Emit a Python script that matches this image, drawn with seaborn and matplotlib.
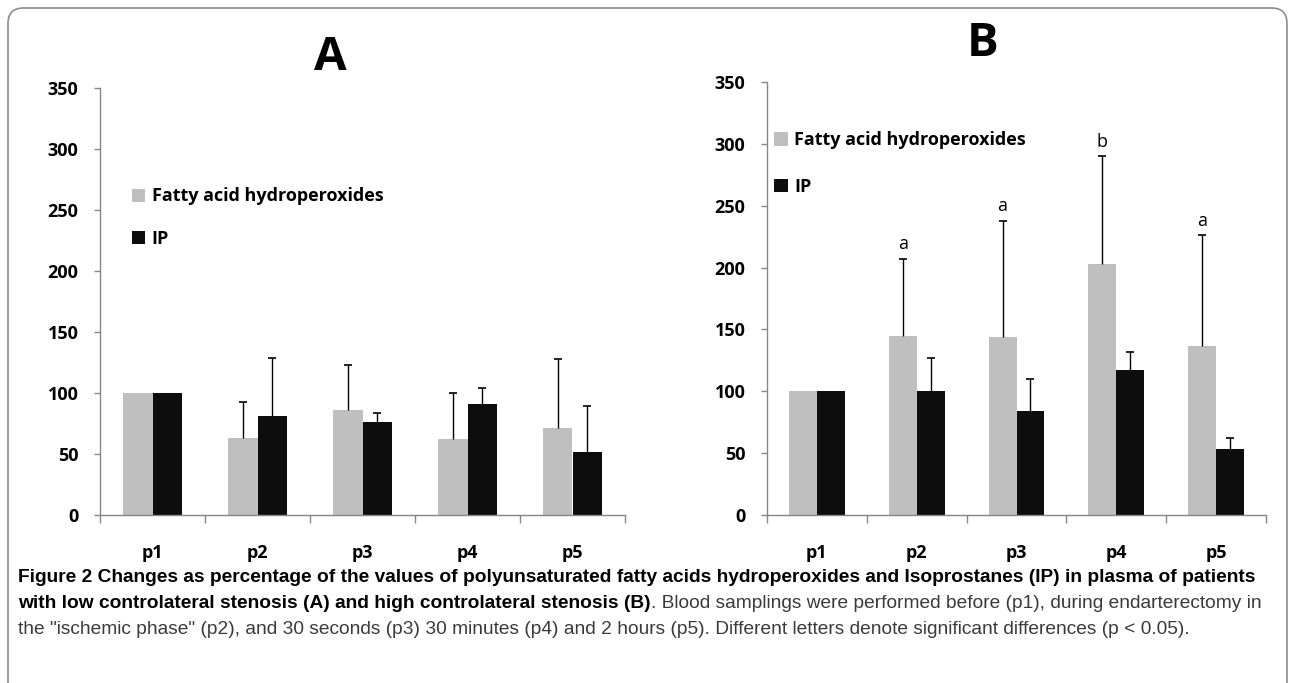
import matplotlib
matplotlib.use("Agg")
import matplotlib.pyplot as plt
import seaborn as sns
import pandas as pd
from matplotlib.patches import FancyBboxPatch

# data
categories = ["p1", "p2", "p3", "p4", "p5"]
series = ["Fatty acid hydroperoxides", "IP"]

a_fa = [100, 63, 86, 62, 71]
a_fa_sd = [0, 30, 37, 38, 57]
a_ip = [100, 81, 76, 91, 52]
a_ip_sd = [0, 48, 8, 13, 37]

b_fa = [100, 145, 144, 203, 137]
b_fa_sd = [0, 62, 94, 87, 89]
b_ip = [100, 100, 84, 117, 53]
b_ip_sd = [0, 27, 26, 15, 9]
b_letters = ["", "a", "a", "b", "a"]

colors = ["#bfbfbf", "#0d0d0d"]
axis_grey = "#868686"
tick_font = ["Open Sans", "DejaVu Sans"]
cap_font = ["Liberation Sans Narrow", "Liberation Sans", "DejaVu Sans"]

sns.set_theme(style="white")
plt.rcParams["font.family"] = tick_font
plt.rcParams["text.color"] = "black"

fig = plt.figure(figsize=(12.92, 6.83), dpi=100)

# rounded frame around the figure
frame = FancyBboxPatch((8 / 1292, -0.2), 1279 / 1292, 1.2 - 8 / 683,
                       boxstyle="round,pad=0,rounding_size=0.012",
                       transform=fig.transFigure, fill=False,
                       edgecolor="#8c8c8c", linewidth=1.2, mutation_aspect=1292 / 683)
fig.patches.append(frame)


def panel(rect, fa, fa_sd, ip, ip_sd, title, title_x, title_y, leg_anchor, leg_space, letters=None):
    ax = fig.add_axes(rect)
    df = pd.DataFrame({
        "t": categories * 2,
        "s": [series[0]] * 5 + [series[1]] * 5,
        "v": fa + ip,
    })
    sns.barplot(data=df, x="t", y="v", hue="s", order=categories, hue_order=series,
                palette=colors, width=0.56, gap=0, errorbar=None, saturation=1,
                linewidth=0, ax=ax)

    # one-sided (upper) error bars at the centre of each bar
    bars = ax.patches[:10]
    sds = fa_sd + ip_sd
    vals = fa + ip
    for p, v, sd in zip(bars, vals, sds):
        if sd > 0:
            xc = p.get_x() + p.get_width() / 2
            _, caps, _ = ax.errorbar(xc, v, yerr=[[0], [sd]], fmt="none", ecolor="black",
                                     elinewidth=1, capsize=3, capthick=1.2)
            caps[0].set_visible(False)

    if letters:
        for i, lt in enumerate(letters):
            if lt:
                p = bars[i]
                xc = p.get_x() + p.get_width() / 2
                ax.annotate(lt, (xc, fa[i] + fa_sd[i]), xytext=(0, 4),
                            textcoords="offset points", ha="center", va="bottom",
                            fontsize=13, family=tick_font, color="black")

    ax.set_ylim(0, 350)
    ax.set_xlim(-0.5, 4.5)
    ax.set_yticks(range(0, 351, 50))
    ax.set_xlabel("")
    ax.set_ylabel("")
    for s in ["top", "right"]:
        ax.spines[s].set_visible(False)
    for s in ["left", "bottom"]:
        ax.spines[s].set_color(axis_grey)
        ax.spines[s].set_linewidth(1)
    ax.set_xticks([-0.5, 0.5, 1.5, 2.5, 3.5, 4.5], minor=True)
    ax.tick_params(axis="x", which="minor", bottom=True, length=5.5, color=axis_grey, width=1)
    ax.tick_params(axis="x", which="major", bottom=False, length=0, pad=21)
    ax.tick_params(axis="y", left=True, length=4.5, color=axis_grey, width=1, pad=11)
    for lab in ax.get_xticklabels() + ax.get_yticklabels():
        lab.set_fontweight("bold")
        lab.set_fontsize(13)
        lab.set_color("black")

    leg = ax.legend(loc="upper left", bbox_to_anchor=leg_anchor, frameon=False,
                    handlelength=0.75, handleheight=0.75, handletextpad=0.35,
                    labelspacing=leg_space, borderaxespad=0,
                    prop={"weight": "bold", "size": 13, "family": tick_font})
    for t in leg.get_texts():
        t.set_color("black")

    fig.text(title_x / 1292, 1 - title_y / 683, title, ha="center", va="center",
             fontsize=34, fontweight="bold", family=tick_font, color="black")
    return ax


panel([100 / 1292, 1 - 515 / 683, 525 / 1292, 427 / 683],
      a_fa, a_fa_sd, a_ip, a_ip_sd, "A", 330, 57, (0.047, 0.784), 1.35)
panel([767 / 1292, 1 - 515 / 683, 499 / 1292, 433 / 683],
      b_fa, b_fa_sd, b_ip, b_ip_sd, "B", 983, 44, (0.0, 0.903), 1.6, letters=b_letters)

# caption
cap1 = ("Figure 2 Changes as percentage of the values of polyunsaturated fatty acids "
        "hydroperoxides and Isoprostanes (IP) in plasma of patients")
cap2b = "with low controlateral stenosis (A) and high controlateral stenosis (B)"
cap2n = ". Blood samplings were performed before (p1), during endarterectomy in"
cap3 = ("the \"ischemic phase\" (p2), and 30 seconds (p3) 30 minutes (p4) and 2 hours (p5). "
        "Different letters denote significant differences (p < 0.05).")

x0 = 18 / 1292
fs = 13.8
fig.text(x0, 1 - 578 / 683, cap1, ha="left", va="center", fontsize=fs,
         fontweight="bold", family=cap_font, color="black")
t2 = fig.text(x0, 1 - 604 / 683, cap2b, ha="left", va="center", fontsize=fs,
              fontweight="bold", family=cap_font, color="black")
fig.canvas.draw()
bb = t2.get_window_extent()
fig.text(bb.x1 / fig.bbox.width, 1 - 604 / 683, cap2n, ha="left", va="center",
         fontsize=fs, family=cap_font, color="#3a3a3a")
fig.text(x0, 1 - 630 / 683, cap3, ha="left", va="center", fontsize=fs,
         family=cap_font, color="#3a3a3a")

fig.savefig("out.png", dpi=100)
